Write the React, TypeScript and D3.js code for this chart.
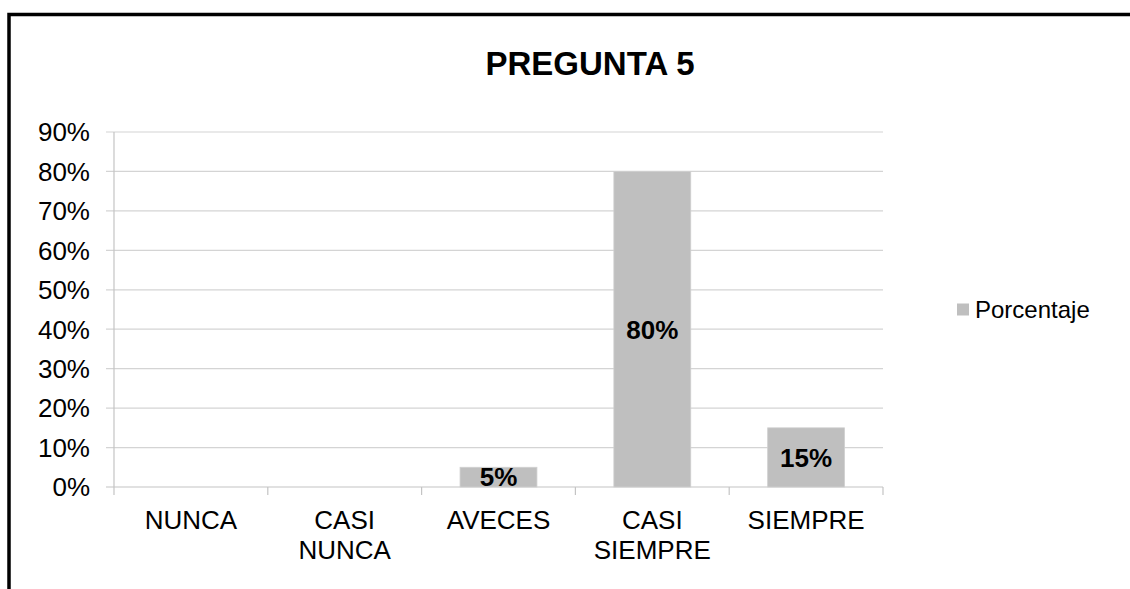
import React from "react";
import * as d3 from "d3";

const categories: string[][] = [["NUNCA"], ["CASI", "NUNCA"], ["AVECES"], ["CASI", "SIEMPRE"], ["SIEMPRE"]];
const values: number[] = [0, 0, 0.05, 0.8, 0.15];
const yTicks: number[] = [0, 0.1, 0.2, 0.3, 0.4, 0.5, 0.6, 0.7, 0.8, 0.9];
const title = "PREGUNTA 5";
const seriesName = "Porcentaje";

const W = 1130;
const H = 589;
const FONT = "'Liberation Sans', Arial, sans-serif";

export default function App() {
  const left = 114;
  const right = 883;
  const top = 132;
  const bottom = 487;
  const y = d3.scaleLinear().domain([0, 0.9]).range([bottom, top]);
  const x = d3
    .scaleBand<number>()
    .domain(categories.map((_, i) => i))
    .range([left, right])
    .paddingInner(0.5)
    .paddingOuter(0.25);
  const step = x.step();
  const fmt = d3.format(".0%");

  const T = (props: { x: number; y: number; anchor?: string; size: number; bold?: boolean; children: React.ReactNode }) => (
    <text
      x={props.x}
      y={props.y}
      textAnchor={props.anchor || "middle"}
      fontSize={props.size}
      fontWeight={props.bold ? "bold" : "normal"}
      fontFamily={FONT}
      fill="#000"
    >
      {props.children}
    </text>
  );

  return (
    <svg width={W} height={H} style={{ position: "absolute", left: 0, top: 0, background: "#fff" }}>
      <rect x={0} y={0} width={W} height={H} fill="#fff" />
      <path d={`M9,${H} V14.5 H${W}`} fill="none" stroke="#000" strokeWidth={3.5} />

      <T x={590} y={75} size={33} bold>
        {title}
      </T>

      {/* gridlines */}
      {yTicks.map((t) => (
        <g key={t}>
          <line x1={left - 8} x2={right} y1={y(t)} y2={y(t)} stroke={t === 0 ? "#c4c4c4" : "#d4d4d4"} strokeWidth={1.2} />
          <T x={90} y={y(t) + 9.3} anchor="end" size={26}>
            {fmt(t)}
          </T>
        </g>
      ))}
      <line x1={left} x2={left} y1={top} y2={bottom} stroke="#c4c4c4" strokeWidth={1.2} />
      {d3.range(categories.length + 1).map((i) => (
        <line key={i} x1={left + i * step} x2={left + i * step} y1={bottom} y2={bottom + 8} stroke="#c4c4c4" strokeWidth={1.2} />
      ))}

      {/* bars */}
      {values.map((v, i) =>
        v > 0 ? (
          <g key={i}>
            <rect x={x(i)!} y={y(v)} width={x.bandwidth()} height={bottom - y(v)} fill="#bfbfbf" stroke="#d0d0d0" strokeWidth={0.8} />
            <T x={x(i)! + x.bandwidth() / 2} y={(y(v) + bottom) / 2 + 9.3} size={26} bold>
              {fmt(v)}
            </T>
          </g>
        ) : null
      )}

      {/* category labels */}
      {categories.map((lines, i) => (
        <g key={i}>
          {lines.map((l, j) => (
            <T key={j} x={x(i)! + x.bandwidth() / 2} y={529 + j * 29.5} size={26}>
              {l}
            </T>
          ))}
        </g>
      ))}

      {/* legend */}
      <rect x={957} y={303.5} width={12} height={12} fill="#bfbfbf" />
      <T x={975} y={318} anchor="start" size={24}>
        {seriesName}
      </T>
    </svg>
  );
}
